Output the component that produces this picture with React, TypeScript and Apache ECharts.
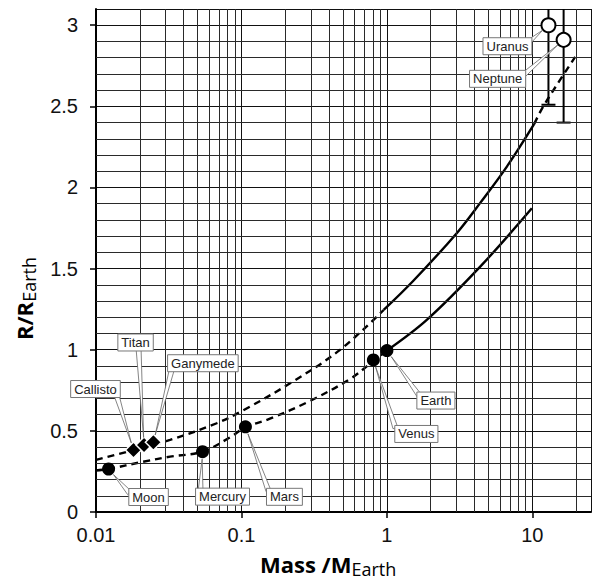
import React, { useEffect, useRef } from "react";
import * as echarts from "echarts";

// ---- axes ----
const X_MIN = 0.01;
const X_MAX = 25.3;
const Y_MIN = 0;
const Y_MAX = 3.1;
const Y_INTERVAL = 0.5;
const X_TICKS = [0.01, 0.1, 1, 10];
const X_TICK_LABELS = ["0.01", "0.1", "1", "10"];
const X_MINOR = [0.02, 0.03, 0.04, 0.05, 0.06, 0.07, 0.08, 0.09, 0.2, 0.3, 0.4, 0.5, 0.6, 0.7, 0.8, 0.9, 2, 3, 4, 5, 6, 7, 8, 9, 20];
const Y_MINOR = [0.1, 0.2, 0.3, 0.4, 0.6, 0.7, 0.8, 0.9, 1.1, 1.2, 1.3, 1.4, 1.6, 1.7, 1.8, 1.9, 2.1, 2.2, 2.3, 2.4, 2.6, 2.7, 2.8, 2.9];

// ---- model curves [mass, radius] ----
const UPPER_DASHED_LEFT = [[0.01, 0.321], [0.018, 0.381], [0.0323, 0.444], [0.0676, 0.547], [0.103, 0.627], [0.216, 0.793], [0.476, 0.999], [0.95, 1.245]];
const UPPER_SOLID = [[0.95, 1.245], [1.52, 1.425], [3.03, 1.72], [4.38, 1.905], [6.68, 2.129], [10.3, 2.392]];
const UPPER_DASHED_RIGHT = [[10.3, 2.392], [11.7, 2.489], [14.9, 2.639], [19.7, 2.805]];
const LOWER_DASHED = [[0.01, 0.256], [0.0122, 0.265], [0.0211, 0.31], [0.0323, 0.341], [0.054, 0.372], [0.0835, 0.46], [0.1065, 0.522], [0.157, 0.575], [0.297, 0.685], [0.558, 0.82], [0.807, 0.93], [1.0, 0.995]];
const LOWER_SOLID = [[1.0, 0.995], [1.88, 1.184], [4.38, 1.512], [9.92, 1.872]];

// ---- bodies ----
const PLANETS = ["Moon", "Mercury", "Mars", "Venus", "Earth"];
const PLANET_MASS = [0.0122, 0.054, 0.1065, 0.807, 1.0];
const PLANET_RADIUS = [0.265, 0.372, 0.525, 0.937, 0.995];
const MOONS = ["Callisto", "Titan", "Ganymede"];
const MOON_MASS = [0.0181, 0.0214, 0.0248];
const MOON_RADIUS = [0.382, 0.413, 0.43];
const GIANTS = ["Uranus", "Neptune"];
const GIANT_MASS = [12.9, 16.4];
const GIANT_RADIUS = [3.0, 2.91];
const GIANT_LOW = [2.51, 2.4];
const GIANT_HIGH = [3.6, 3.6];

// label placement: box centre offset (dx,dy) from the marker, and pointer anchor (ax,ay) from box centre
const LABEL_LAYOUT: Record<string, number[]> = {
  Moon: [40, 28, -19, -4],
  Mercury: [20, 45, -22, -5],
  Mars: [39, 70, -16, -6],
  Venus: [43, 74, -21, -6],
  Earth: [49, 50, -16, -4],
  Callisto: [-38, -61, 21, 6],
  Titan: [-8.5, -102.5, 3, 6],
  Ganymede: [49.5, -79, -31, 6],
  Uranus: [-41, 21, 20, -3],
  Neptune: [-66, 39, 25, -3],
};

const TICK_FONT = "'Liberation Sans', Arial, sans-serif";
const TITLE_FONT = "'Open Sans', 'Liberation Sans', sans-serif";

export default function App() {
  const ref = useRef<HTMLDivElement>(null);
  useEffect(() => {
    if (!ref.current) return;
    const chart = echarts.init(ref.current, null, { renderer: "svg" });
    const curve = (data: number[][], dashed: boolean) => ({
      type: "line",
      data,
      smooth: 0.35,
      showSymbol: false,
      symbol: "none",
      z: 3,
      lineStyle: { color: "#000", width: 2.4, type: dashed ? [7, 5] : "solid" },
      silent: true,
    });
    chart.setOption({
      animation: false,
      backgroundColor: "#fff",
      grid: { left: 96, top: 9, right: 2, bottom: 70, containLabel: false },
      xAxis: {
        type: "log",
        logBase: 10,
        min: X_MIN,
        max: X_MAX,
        axisLine: { show: true, lineStyle: { color: "#000", width: 2 } },
        axisTick: { show: true, length: 6, lineStyle: { color: "#000", width: 1.5 } },
        splitLine: { show: true, lineStyle: { color: "#111", width: 1 } },
        axisLabel: {
          showMaxLabel: false,
          margin: 13,
          fontSize: 20,
          fontFamily: TICK_FONT,
          color: "#111",
          formatter: (v: number) => {
            for (let i = 0; i < X_TICKS.length; i++) {
              if (Math.abs(Math.log10(v) - Math.log10(X_TICKS[i])) < 1e-6) return X_TICK_LABELS[i];
            }
            return "";
          },
        },
      },
      yAxis: {
        type: "value",
        min: Y_MIN,
        max: Y_MAX,
        interval: Y_INTERVAL,
        axisLine: { show: true, lineStyle: { color: "#000", width: 2 } },
        axisTick: { show: true, length: 6, lineStyle: { color: "#000", width: 1.5 } },
        splitLine: { show: true, lineStyle: { color: "#111", width: 1 } },
        axisLabel: {
          showMaxLabel: false,
          margin: 18,
          fontSize: 20,
          fontFamily: TICK_FONT,
          color: "#111",
          formatter: (v: number) => String(v),
        },
      },
      series: [
        {
          type: "line",
          data: [[X_MIN, Y_MIN]],
          showSymbol: false,
          lineStyle: { opacity: 0 },
          silent: true,
          z: 1,
          markLine: {
            silent: true,
            symbol: ["none", "none"],
            label: { show: false },
            lineStyle: { color: "#2a2a2a", width: 1, type: "solid" },
            data: [...X_MINOR.map((v) => ({ xAxis: v })), ...Y_MINOR.map((v) => ({ yAxis: v }))],
          },
        },
        curve(UPPER_DASHED_LEFT, true),
        curve(UPPER_SOLID, false),
        curve(UPPER_DASHED_RIGHT, true),
        curve(LOWER_DASHED, true),
        curve(LOWER_SOLID, false),
        {
          type: "custom",
          clip: true,
          z: 4,
          data: GIANTS.map((_, i) => [GIANT_MASS[i], GIANT_LOW[i], GIANT_HIGH[i]]),
          encode: { x: 0, y: [1, 2] },
          renderItem: (params: any, api: any) => {
            const m = api.value(0);
            const lo = api.coord([m, api.value(1)]);
            const hi = api.coord([m, api.value(2)]);
            const st = { stroke: "#000", lineWidth: 2 };
            return {
              type: "group",
              children: [
                { type: "line", shape: { x1: lo[0], y1: lo[1], x2: hi[0], y2: hi[1] }, style: st },
                { type: "line", shape: { x1: lo[0] - 7, y1: lo[1], x2: lo[0] + 7, y2: lo[1] }, style: st },
              ],
            };
          },
        },
        {
          type: "scatter",
          z: 5,
          symbol: "circle",
          symbolSize: 13,
          itemStyle: { color: "#000", opacity: 1 },
          data: PLANETS.map((_, i) => [PLANET_MASS[i], PLANET_RADIUS[i]]),
        },
        {
          type: "scatter",
          z: 5,
          symbol: "diamond",
          symbolSize: 16,
          itemStyle: { color: "#000", borderColor: "#fff", borderWidth: 1.5, opacity: 1 },
          data: MOONS.map((_, i) => [MOON_MASS[i], MOON_RADIUS[i]]),
        },
        {
          type: "scatter",
          z: 5,
          symbol: "circle",
          symbolSize: 14,
          itemStyle: { color: "#fff", borderColor: "#000", borderWidth: 2, opacity: 1 },
          data: GIANTS.map((_, i) => [GIANT_MASS[i], GIANT_RADIUS[i]]),
        },
      ],
    });

    // annotations
    const cv = document.createElement("canvas").getContext("2d")!;
    const measure = (t: string, font: string) => {
      cv.font = font;
      return cv.measureText(t).width;
    };
    const LABEL_FONT = "13px 'Liberation Sans', Arial, sans-serif";
    const elements: any[] = [];
    const addLabel = (name: string, m: number, r: number) => {
      const p = chart.convertToPixel({ xAxisIndex: 0, yAxisIndex: 0 }, [m, r]) as number[];
      const [dx, dy, ax, ay] = LABEL_LAYOUT[name];
      const c = [p[0] + dx, p[1] + dy];
      const a = [c[0] + ax, c[1] + ay];
      let ux = a[0] - p[0];
      let uy = a[1] - p[1];
      const len = Math.hypot(ux, uy);
      ux /= len;
      uy /= len;
      const tip = [p[0] + ux * 7.5, p[1] + uy * 7.5];
      const px = -uy, py = ux;
      elements.push({
        type: "polygon",
        z: 10,
        shape: { points: [tip, [a[0] + px * 2.5, a[1] + py * 2.5], [a[0] - px * 2.5, a[1] - py * 2.5]] },
        style: { fill: "#fff", stroke: "#666", lineWidth: 0.8 },
        silent: true,
      });
      const w = measure(name, LABEL_FONT) + 7;
      elements.push({
        type: "rect",
        z: 11,
        shape: { x: c[0] - w / 2, y: c[1] - 8.5, width: w, height: 17 },
        style: { fill: "#fff", stroke: "#777", lineWidth: 1 },
        silent: true,
      });
      elements.push({
        type: "text",
        z: 12,
        x: c[0],
        y: c[1],
        style: { text: name, font: LABEL_FONT, fill: "#222", align: "center", verticalAlign: "middle" },
        silent: true,
      });
    };
    PLANETS.forEach((n, i) => addLabel(n, PLANET_MASS[i], PLANET_RADIUS[i]));
    MOONS.forEach((n, i) => addLabel(n, MOON_MASS[i], MOON_RADIUS[i]));
    GIANTS.forEach((n, i) => addLabel(n, GIANT_MASS[i], GIANT_RADIUS[i]));

    // axis titles
    const BOLD = `bold 22px ${TITLE_FONT}`;
    const SUB = `18px ${TITLE_FONT}`;
    const xMain = "Mass /M";
    const xMainW = measure(xMain, BOLD);
    const x0 = 260;
    elements.push({ type: "text", z: 12, x: x0, y: 563.5, style: { text: xMain, font: BOLD, fill: "#000", align: "left", verticalAlign: "middle" } });
    elements.push({ type: "text", z: 12, x: x0 + xMainW, y: 569, style: { text: "Earth", font: SUB, fill: "#000", align: "left", verticalAlign: "middle" } });
    const yMain = "R/R";
    const yMainW = measure(yMain, BOLD);
    elements.push({
      type: "group",
      x: 0,
      y: 340,
      rotation: Math.PI / 2,
      children: [
        { type: "text", z: 12, x: 0, y: 24, style: { text: yMain, font: BOLD, fill: "#000", align: "left", verticalAlign: "middle" } },
        { type: "text", z: 12, x: yMainW, y: 28.5, style: { text: "Earth", font: SUB, fill: "#000", align: "left", verticalAlign: "middle" } },
      ],
    });

    chart.setOption({ graphic: { elements } });
    return () => chart.dispose();
  }, []);
  return <div ref={ref} style={{ position: "fixed", left: 0, top: 0, width: 593, height: 582 }} />;
}
